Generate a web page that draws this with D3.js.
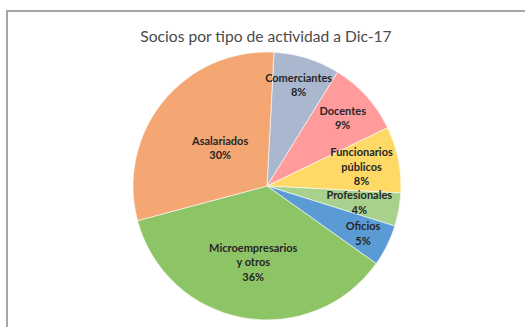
<!DOCTYPE html>
<html>
<head>
<meta charset="utf-8">
<script src="https://cdn.jsdelivr.net/npm/d3@7"></script>
<style>
  html, body { margin: 0; padding: 0; background: #fff; overflow: hidden; }
  svg { display: block; }
</style>
</head>
<body>
<svg id="chart" width="525" height="327"></svg>
<script>
// ---- data ----
const title = "Socios por tipo de actividad a Dic-17";
const categories = ["Comerciantes", "Docentes", "Funcionarios públicos", "Profesionales", "Oficios", "Microempresarios y otros", "Asalariados"];
const values = [8, 9, 8, 4, 5, 36, 30];
const labelLines = [["Comerciantes"], ["Docentes"], ["Funcionarios", "públicos"], ["Profesionales"], ["Oficios"], ["Microempresarios", "y otros"], ["Asalariados"]];

// ---- style ----
const colors = ["#a9b8cf", "#ff9b9b", "#ffd966", "#a8d18d", "#5b9bd5", "#8dc566", "#f4a673"];
const labelRadiusFactor = [0.79, 0.76, 0.72, 0.70, 0.80, 0.58, 0.45];
const W = 525, H = 327;
const cx = 267, cy = 186, r = 134;
const rotation = 3 * Math.PI / 180;

const svg = d3.select("#chart");

// frame
svg.append("rect")
  .attr("x", 7).attr("y", 11)
  .attr("width", 540).attr("height", 340)
  .attr("fill", "#fff")
  .attr("stroke", "#a6a6a6")
  .attr("stroke-width", 2);

// title
svg.append("text")
  .attr("x", 266).attr("y", 42)
  .attr("text-anchor", "middle")
  .attr("font-family", "Lato, 'Open Sans', sans-serif")
  .attr("font-size", 15.6)
  .attr("fill", "#4a4a4a")
  .text(title);

const pie = d3.pie().sort(null).value(d => d)
  .startAngle(rotation).endAngle(rotation + 2 * Math.PI);
const arcs = pie(values);
const arc = d3.arc().innerRadius(0).outerRadius(r);

const g = svg.append("g").attr("transform", `translate(${cx},${cy})`);

g.selectAll("path.slice")
  .data(arcs)
  .join("path")
  .attr("class", "slice")
  .attr("d", arc)
  .attr("fill", (d, i) => colors[i])
  .attr("stroke", "#fff")
  .attr("stroke-width", 0.6);

const total = d3.sum(values);
const lineH = 14.5;
g.selectAll("text.lbl")
  .data(arcs)
  .join("text")
  .attr("class", "lbl")
  .attr("text-anchor", "middle")
  .attr("font-family", "Lato, 'Open Sans', sans-serif")
  .attr("font-weight", "bold")
  .attr("font-size", 11)
  .attr("fill", "#262626")
  .each(function(d, i) {
    const lr = r * labelRadiusFactor[i];
    const a = (d.startAngle + d.endAngle) / 2;
    const x = Math.sin(a) * lr, y = -Math.cos(a) * lr;
    const lines = labelLines[i].concat([Math.round(values[i] / total * 100) + "%"]);
    const y0 = y - (lines.length - 1) * lineH / 2 + 4;
    const t = d3.select(this);
    lines.forEach((ln, k) => {
      t.append("tspan").attr("x", x).attr("y", y0 + k * lineH).text(ln);
    });
  });
</script>
</body>
</html>
